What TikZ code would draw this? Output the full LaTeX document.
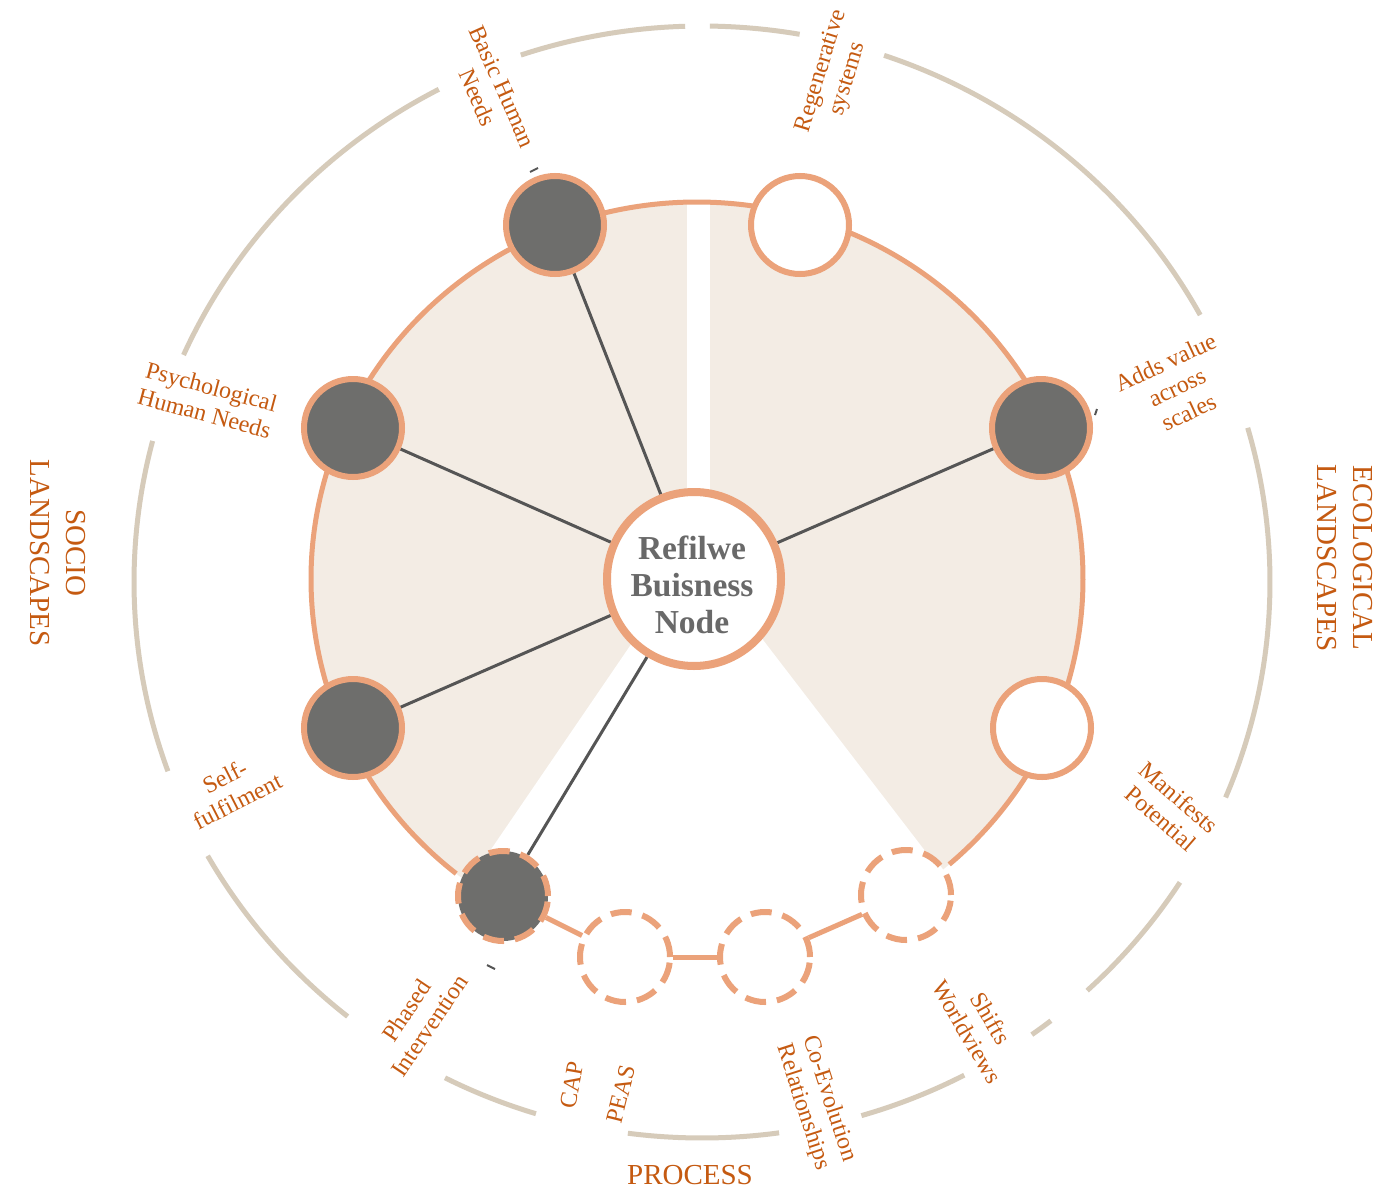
\documentclass[tikz,border=0pt]{standalone}
\usepackage{fontspec}
\setmainfont{Liberation Serif}
\usetikzlibrary{backgrounds}
\definecolor{orng}{RGB}{235,162,122}
\definecolor{beigefill}{RGB}{243,236,228}
\definecolor{ringtan}{RGB}{214,203,186}
\definecolor{lbl}{RGB}{197,90,17}
\definecolor{darkfill}{RGB}{110,110,108}
\definecolor{spokecol}{RGB}{85,85,85}
\definecolor{hubtxt}{RGB}{105,105,105}
\newcommand\myoseg[2]{\draw[ring] (OC) ++(#1:568pt and 556pt) arc[start angle=#1, end angle=#2, x radius=568pt, y radius=556pt];}
\begin{document}
\begin{tikzpicture}[x=1pt,y=-1pt,
  ring/.style={draw=ringtan, line width=5pt},
  sat/.style={circle, draw=orng, line width=6pt, minimum size=98pt, inner sep=0pt},
  darksat/.style={sat, fill=darkfill},
  lightsat/.style={sat, fill=white},
  dsat/.style={circle, draw=orng, line width=6pt, dash pattern=on 21pt off 11pt, minimum size=90pt, inner sep=0pt, fill=white},
  hubnode/.style={circle, draw=orng, line width=8pt, fill=white, minimum size=174pt, inner sep=0pt},
  hubtext/.style={align=center, text=hubtxt, inner sep=0pt, font=\bfseries\fontsize{33.5}{37}\selectfont},
  lab/.style={text=lbl, align=center, font=\fontsize{24}{27.5}\selectfont, inner sep=0pt},
  biglab/.style={text=lbl, align=center, font=\fontsize{29}{36}\selectfont, inner sep=0pt},
  spoke/.style={draw=spokecol, line width=3pt},
  chain/.style={draw=orng, line width=5pt},
  tick/.style={draw=spokecol, line width=2pt},
]
\useasboundingbox (0,0) rectangle (1382,1191);
\coordinate (OC) at (702,582);
\coordinate (IC) at (697,579);

% nodes
\node[hubnode] (hub) at (694,579) {};
\node[hubtext] (hubt) at (692,585) {Refilwe\\Buisness\\Node};
\node[darksat] (basic) at (555,225) {};
\node[lightsat] (regen) at (800,225) {};
\node[darksat] (adds) at (1041,428) {};
\node[lightsat] (manif) at (1042,728) {};
\node[darksat] (psych) at (353,428) {};
\node[darksat] (self) at (353,728) {};
\node[dsat, fill=darkfill] (phased) at (503,896) {};
\node[dsat] (cap) at (625,957) {};
\node[dsat] (coev) at (765,957) {};
\node[dsat] (shift) at (906,895) {};

% labels
\node[lab, rotate=-66] (lbasic) at (490,92) {Basic Human\\Needs};
\node[lab, rotate=73] (lregen) at (835,75) {Regenerative\\systems};
\node[lab, rotate=-15] (lpsych) at (208,400) {Psychological\\Human Needs};
\node[lab, rotate=25] (ladds) at (1177,387) {Adds value\\across\\scales};
\node[lab, rotate=27] (lself) at (231,789) {Self-\\fulfilment};
\node[lab, rotate=-41] (lmanif) at (1170,808) {Manifests\\Potential};
\node[lab, rotate=56] (lphased) at (418,1018) {Phased\\Intervention};
\node[lab, rotate=80] (lcap) at (572,1085) {CAP};
\node[lab, rotate=76] (lpeas) at (621,1094) {PEAS};
\node[lab, rotate=-72] (lcoev) at (816,1103) {Co-Evolution\\Relationships};
\node[lab, rotate=-60] (lshift) at (979,1025) {Shifts\\Worldviews};
\node[biglab, rotate=-90] (lsocio) at (58,553) {SOCIO\\LANDSCAPES};
\node[biglab, rotate=-90] (leco) at (1345,558) {ECOLOGICAL\\LANDSCAPES};
\node[biglab] (lproc) at (690,1175) {PROCESS};

\begin{scope}[on background layer]
  \fill[white] (0,0) rectangle (1382,1191);
  % beige sectors
  \fill[beigefill] (IC) ellipse [x radius=386pt, y radius=377pt];
  \fill[white] (687,195) rectangle (710,585);
  \fill[white] (675,580) -- (466,886) -- (466,1010) -- (952,1010) -- (952,886) -- (717,580) -- cycle;
  % inner orange arc
  \draw[orng, line width=5pt] (IC) ++(-49.2:386pt and 377pt) arc[start angle=-49.2, end angle=231.4, x radius=386pt, y radius=377pt];
  % outer ring segments
  \myoseg{91.7}{108.6}
  \myoseg{80.1}{89.2}
  \myoseg{28.7}{71.3}
  \myoseg{-22.8}{16.1}
  \myoseg{-47.3}{-32.7}
  \myoseg{-54.5}{-52.1}
  \myoseg{-73.7}{-62.5}
  \myoseg{-97.5}{-82.2}
  \myoseg{-116.9}{-107}
  \myoseg{-150.5}{-128.6}
  \myoseg{165.3}{199.9}
  \myoseg{117.6}{155.9}
  % spokes
  \draw[spoke] (hub) -- (basic);
  \draw[spoke] (hub) -- (psych);
  \draw[spoke] (hub) -- (self);
  \draw[spoke] (hub) -- (adds);
  \draw[spoke] (hub) -- (phased);
  % process chain
  \draw[chain] (phased) -- (cap);
  \draw[chain] (cap) -- (coev);
  \draw[chain] (coev) -- (shift);
  % small marks
  \draw[tick] (530,172) -- (538,168);
  \draw[tick] (1095,415) -- (1097,409);
  \draw[tick] (487,965) -- (495,969);
\end{scope}
\end{tikzpicture}
\end{document}
